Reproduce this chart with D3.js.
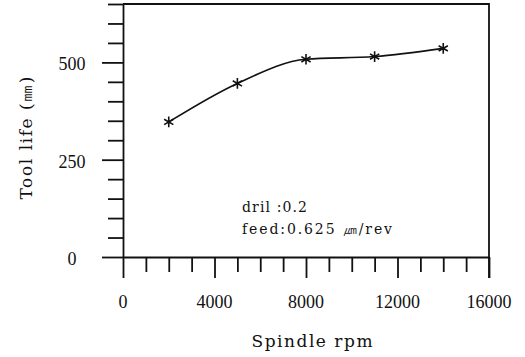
<!DOCTYPE html>
<html>
<head>
<meta charset="utf-8">
<script src="https://cdn.jsdelivr.net/npm/d3@7"></script>
<style>
  body { margin: 0; background: #fff; }
  svg { display: block; }
  text { fill: #111; }
</style>
</head>
<body>
<svg width="525" height="357"></svg>
<script>
// data
var rpm = [2000, 5000, 8000, 11000, 14000];
var toolLife = [347, 446, 508, 515, 536];
var xMajor = [0, 4000, 8000, 12000, 16000];
var yMajor = [0, 250, 500];

var svg = d3.select("svg"),
    plotLeft = 123, plotRight = 489, plotTop = 4, plotBottom = 257;

var x = d3.scaleLinear().domain([0, 16000]).range([plotLeft, plotRight]);
var y = d3.scaleLinear().domain([0, 650]).range([plotBottom, plotTop]);

var serif = "'Liberation Serif', 'DejaVu Serif', serif";
var wide = "'DejaVu Serif', serif";

// x axis, ticks every 1000, longer at the labelled ones
var xAxis = svg.append("g")
    .attr("transform", "translate(0," + plotBottom + ")")
    .call(d3.axisBottom(x).tickValues(d3.range(0, 16001, 1000)).tickSizeOuter(0).tickFormat(""));
xAxis.selectAll(".tick line")
    .attr("y2", function(d) { return d % 4000 === 0 ? 21 : 15; });

// y axis, ticks every 50
var yAxis = svg.append("g")
    .attr("transform", "translate(" + plotLeft + ",0)")
    .call(d3.axisLeft(y).tickValues(d3.range(0, 651, 50)).tickSizeOuter(0).tickFormat(""));
yAxis.selectAll(".tick line")
    .attr("x2", function(d) { return d % 250 === 0 ? -21 : -15; });

svg.selectAll(".domain, .tick line")
    .attr("stroke", "#111")
    .attr("stroke-width", 1.8);

// frame top + right
svg.append("path")
    .attr("d", "M" + x(0) + "," + y(650) + "H" + x(16000) + "V" + (plotBottom + 21))
    .attr("fill", "none")
    .attr("stroke", "#111")
    .attr("stroke-width", 1.8);

// tick labels
svg.append("g").selectAll("text")
    .data(xMajor)
    .enter().append("text")
    .attr("x", function(d) { return x(d); })
    .attr("y", 308)
    .attr("text-anchor", "middle")
    .attr("font-family", serif)
    .attr("font-size", 18)
    .text(function(d) { return d; });

svg.append("g").selectAll("text")
    .data(yMajor)
    .enter().append("text")
    .attr("x", 72)
    .attr("y", function(d) { return y(d) + 8; })
    .attr("text-anchor", "middle")
    .attr("font-family", serif)
    .attr("font-size", 18)
    .text(function(d) { return d; });

// axis titles
svg.append("text")
    .attr("x", 312)
    .attr("y", 347)
    .attr("text-anchor", "middle")
    .attr("font-family", wide)
    .attr("font-size", 17)
    .attr("textLength", 121)
    .attr("lengthAdjust", "spacing")
    .text("Spindle rpm");

svg.append("text")
    .attr("transform", "translate(32,138) rotate(-90)")
    .attr("text-anchor", "middle")
    .attr("font-family", wide)
    .attr("font-size", 17)
    .attr("textLength", 123)
    .attr("lengthAdjust", "spacing")
    .text("Tool life (㎜)");

// note
svg.append("text")
    .attr("x", 242)
    .attr("y", 212)
    .attr("font-family", wide)
    .attr("font-size", 14)
    .attr("textLength", 65)
    .attr("lengthAdjust", "spacing")
    .text("dril :0.2");
svg.append("text")
    .attr("x", 242)
    .attr("y", 234)
    .attr("font-family", wide)
    .attr("font-size", 14)
    .attr("textLength", 150)
    .attr("lengthAdjust", "spacing")
    .text("feed:0.625 ㎛/rev");

// curve and markers
var pts = rpm.map(function(d, i) { return [d, toolLife[i]]; });
svg.append("path")
    .datum(pts)
    .attr("fill", "none")
    .attr("stroke", "#111")
    .attr("stroke-width", 1.6)
    .attr("d", d3.line()
      .x(function(d) { return x(d[0]); })
      .y(function(d) { return y(d[1]); })
      .curve(d3.curveMonotoneX));

svg.append("g").selectAll("path")
    .data(pts)
    .enter().append("path")
    .attr("transform", function(d) { return "translate(" + x(d[0]) + "," + y(d[1]) + ")"; })
    .attr("d", d3.symbol(d3.symbolAsterisk, 80))
    .attr("fill", "none")
    .attr("stroke", "#111")
    .attr("stroke-width", 1.6);
</script>
</body>
</html>
